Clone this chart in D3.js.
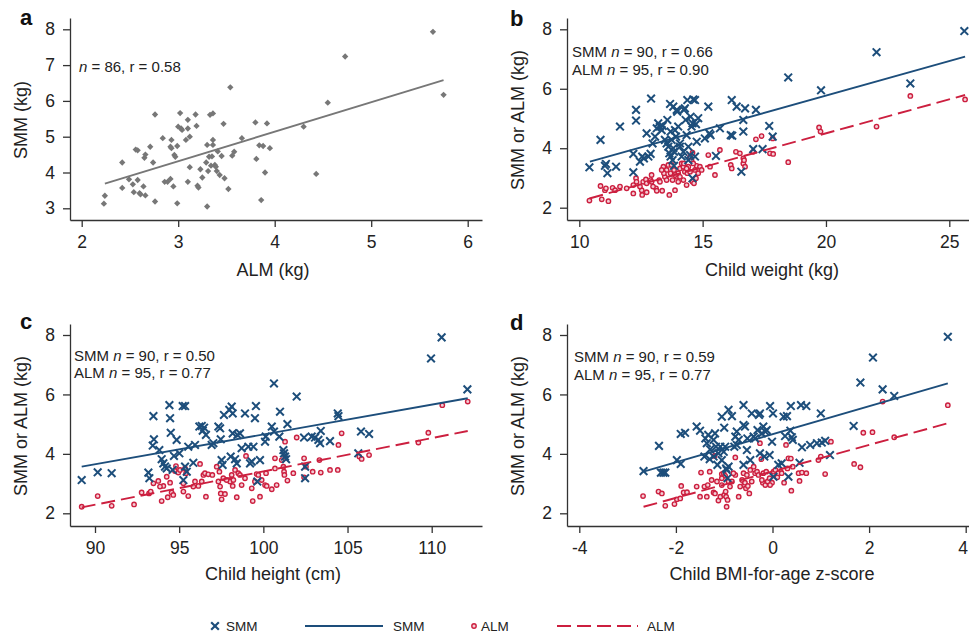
<!DOCTYPE html>
<html>
<head>
<meta charset="utf-8">
<script src="https://cdn.jsdelivr.net/npm/d3@7"></script>
<style>
  body { margin: 0; background: #fff; }
  svg { display: block; }
</style>
</head>
<body>
<div id="chart"></div>
<script>
// data: [x, y]
const aPts = [[2.24,3.35],[2.23,3.13],[2.42,4.28],[2.42,3.57],[2.49,3.81],[2.53,3.67],[2.54,3.45],[2.56,4.64],[2.58,4.62],[2.58,3.79],
  [2.60,3.42],[2.61,3.39],[2.64,3.61],[2.65,4.41],[2.66,4.50],[2.66,3.36],[2.71,4.72],[2.74,4.28],[2.76,5.62],[2.76,3.19],
  [2.84,4.96],[2.86,3.74],[2.89,3.74],[2.92,3.82],[2.92,4.72],[2.93,4.91],[2.93,4.68],[2.95,3.61],[2.96,4.49],[2.97,4.44],
  [2.99,3.14],[2.99,4.74],[3.00,5.28],[3.02,5.66],[3.03,5.23],[3.04,5.19],[3.08,4.91],[3.10,5.47],[3.10,5.23],[3.10,3.74],
  [3.12,4.15],[3.12,5.00],[3.18,5.62],[3.19,5.30],[3.20,3.63],[3.21,3.58],[3.23,4.09],[3.25,3.86],[3.29,4.28],[3.30,4.77],
  [3.30,3.05],[3.31,4.04],[3.32,4.44],[3.33,5.61],[3.34,4.19],[3.35,4.45],[3.36,5.65],[3.36,4.91],[3.36,4.77],[3.38,4.21],
  [3.39,4.16],[3.40,4.04],[3.41,4.59],[3.43,3.93],[3.45,4.46],[3.47,5.36],[3.48,3.84],[3.52,3.54],[3.54,6.38],[3.56,4.47],
  [3.58,4.58],[3.66,4.96],[3.80,5.40],[3.81,4.38],[3.84,4.76],[3.88,4.74],[3.86,3.23],[3.90,4.00],[3.92,5.37],[3.95,4.68],
  [4.30,5.28],[4.43,3.96],[4.55,5.95],[4.73,7.24],[5.64,7.93],[5.75,6.17]];
const aFit = [[2.24,3.69],[5.75,6.58]];

const bSMM = [[10.41,3.36],[10.86,4.28],[11.04,3.41],[11.08,3.47],[11.14,3.16],[11.49,3.38],[11.65,4.73],[12.19,3.81],[12.19,3.19],[12.30,5.29],
  [12.30,4.93],[12.46,3.55],[12.55,3.72],[12.62,3.66],[12.73,4.50],[12.80,3.72],[12.89,3.81],[12.91,5.67],[12.97,4.16],[13.07,4.39],
  [13.14,4.67],[13.20,4.84],[13.27,4.73],[13.34,4.61],[13.38,4.75],[13.47,4.28],[13.54,4.16],[13.57,4.95],[13.61,4.05],[13.65,3.83],
  [13.68,5.49],[13.70,3.72],[13.74,4.28],[13.78,3.60],[13.81,5.40],[13.84,3.88],[13.88,4.61],[13.92,4.39],[13.95,5.29],[13.97,5.23],
  [14.01,4.73],[14.08,4.05],[14.15,3.72],[14.22,3.88],[14.24,5.29],[14.28,5.34],[14.31,4.95],[14.35,4.44],[14.38,5.62],[14.42,4.05],
  [14.49,3.77],[14.51,5.06],[14.55,4.73],[14.59,4.84],[14.62,5.64],[14.69,5.62],[14.73,4.81],[14.76,4.22],[14.59,2.99],[14.82,5.01],
  [15.09,4.33],[15.23,5.40],[15.27,4.50],[15.32,4.44],[15.54,3.74],[15.70,4.67],[16.18,5.62],[16.14,4.44],[16.20,4.42],[16.38,5.40],
  [16.57,3.21],[16.65,4.56],[16.65,4.95],[16.72,5.34],[17.16,5.29],[17.05,3.97],[17.43,3.97],[17.70,4.75],[17.84,4.39],[18.47,6.38],
  [19.80,5.95],[22.05,7.23],[23.42,6.18],[25.61,7.94],[13.81,4.00],[14.08,4.16],[14.42,3.60],[13.70,4.56],[14.69,3.72],[13.84,3.41]];
const bALM = [[10.41,2.24],[10.86,2.73],[10.91,2.28],[11.04,2.59],[11.18,2.22],[11.08,2.65],[11.35,2.67],[11.45,2.59],[11.65,2.71],[12.19,2.76],
  [12.19,2.48],[12.30,2.99],[12.32,2.87],[12.53,2.59],[12.55,2.43],[12.59,2.87],[12.70,2.95],[12.73,2.52],[12.93,3.10],[12.89,2.93],
  [13.11,2.65],[13.14,2.57],[13.24,2.93],[13.36,2.57],[13.41,3.38],[13.47,3.04],[13.54,3.27],[13.61,3.44],[13.65,2.43],[13.70,3.16],
  [13.78,2.93],[13.84,3.27],[13.88,2.59],[13.95,3.04],[14.01,3.16],[14.08,3.32],[14.15,3.49],[14.22,3.38],[14.28,3.21],[14.35,2.76],
  [14.38,3.16],[14.42,3.38],[14.49,3.21],[14.55,3.60],[14.59,2.87],[14.59,3.85],[14.65,2.82],[14.69,3.27],[14.76,3.41],[14.82,3.16],
  [14.89,3.38],[15.23,3.77],[15.30,3.38],[15.50,3.10],[15.70,3.94],[16.14,3.44],[16.18,3.32],[16.35,3.88],[16.51,3.83],[16.65,3.66],
  [16.65,3.49],[16.72,3.38],[16.68,3.60],[17.05,3.88],[17.16,4.30],[17.39,4.41],[17.73,3.83],[17.86,3.81],[17.84,4.33],[18.47,3.53],
  [19.72,4.70],[19.78,4.56],[22.05,4.73],[23.42,5.76],[25.64,5.64],[13.27,2.87],[12.46,2.71],[12.73,2.82],[13.43,3.16],[13.74,3.44],
  [14.08,3.04],[14.24,3.49],[14.49,3.72],[14.73,2.99],[14.96,3.27],[13.88,3.10],[13.54,2.93],[12.99,2.71],[11.92,2.65],[14.22,2.93],
  [14.62,3.49],[14.01,2.87],[12.93,2.87],[13.34,3.27],[14.35,3.32]];
const bFitSMM = [[10.43,3.55],[25.64,7.08]];
const bFitALM = [[10.41,2.31],[25.64,5.79]];

const cSMM = [[89.21,3.12],[90.16,3.38],[90.99,3.35],[93.17,3.37],[93.23,3.18],[93.47,5.27],[93.50,4.49],[93.43,4.28],[93.82,4.13],[93.96,3.82],
  [94.06,3.68],[94.16,3.57],[94.26,3.51],[94.42,5.64],[94.46,5.20],[94.50,4.71],[94.61,3.46],[94.69,3.93],[94.85,4.47],[95.01,4.02],
  [95.21,5.61],[95.35,5.61],[95.25,3.12],[95.35,3.57],[95.45,3.40],[95.54,4.24],[95.84,3.70],[95.94,4.30],[96.20,4.92],[96.34,4.94],
  [96.40,4.78],[96.48,4.88],[96.59,4.64],[96.93,4.30],[97.33,4.92],[97.43,4.86],[97.47,4.49],[97.52,3.79],[97.58,3.63],[97.66,5.31],
  [97.98,5.48],[98.12,5.59],[98.18,5.36],[98.06,3.91],[98.18,4.69],[98.32,3.82],[98.42,3.68],[98.46,4.64],[98.71,4.19],[98.91,5.36],
  [99.11,4.24],[99.21,3.68],[99.31,3.74],[99.41,4.24],[99.50,5.20],[99.56,5.61],[99.64,3.07],[99.80,3.79],[100.10,4.41],[100.14,4.58],
  [100.50,4.92],[100.63,6.37],[100.63,4.75],[100.95,4.58],[100.99,5.42],[101.19,4.13],[101.23,4.02],[101.29,3.91],[101.35,3.82],[101.43,5.00],
  [101.98,5.93],[102.42,4.55],[102.48,3.57],[102.48,3.18],[102.87,4.58],[103.07,4.55],[103.27,4.47],[103.41,4.77],[103.37,4.36],[103.96,4.43],
  [104.42,5.36],[104.46,5.27],[105.64,4.02],[105.80,4.75],[106.28,4.67],[109.96,7.21],[110.59,7.92],[112.12,6.17],[97.03,4.36],[98.61,4.69]];
const cALM = [[89.21,2.22],[90.16,2.58],[90.99,2.25],[92.32,2.30],[92.77,2.70],[93.21,2.67],[93.31,2.73],[93.47,3.01],[93.76,3.09],[93.96,2.41],
  [94.06,2.92],[94.26,3.23],[94.32,2.54],[94.46,3.03],[94.55,2.70],[94.65,2.62],[94.75,3.42],[94.81,3.59],[94.95,3.37],[95.25,2.73],
  [95.25,3.01],[95.35,3.51],[95.41,3.35],[95.54,2.58],[95.84,2.90],[96.14,2.92],[96.24,3.66],[96.34,3.07],[96.44,3.29],[96.53,3.35],
  [96.59,2.56],[96.73,3.31],[96.97,3.29],[97.33,3.07],[97.39,3.40],[97.43,2.90],[97.47,2.67],[97.52,2.47],[97.62,3.18],[97.72,2.65],
  [98.02,3.07],[98.12,3.29],[98.18,2.92],[98.22,3.12],[98.32,3.46],[98.42,2.54],[98.51,3.35],[98.61,3.29],[98.91,3.18],[98.97,3.93],
  [99.31,2.84],[99.37,2.41],[99.50,3.07],[99.60,3.32],[99.70,3.29],[99.80,2.56],[100.10,2.95],[100.16,3.35],[100.20,2.92],[100.50,2.81],
  [100.69,3.85],[100.69,3.51],[101.09,3.79],[101.19,3.57],[101.23,3.40],[101.25,3.29],[101.29,4.41],[101.43,3.10],[101.98,4.55],[102.42,3.85],
  [102.42,3.21],[102.53,3.57],[102.93,3.40],[103.33,3.79],[103.41,3.37],[103.96,3.46],[104.42,3.46],[104.46,4.30],[104.65,4.69],[105.70,3.91],
  [105.84,3.83],[106.28,3.96],[109.21,4.38],[109.80,4.71],[110.63,5.64],[112.14,5.76],[93.86,2.90],[95.05,3.46],[95.94,3.07],[97.23,3.57],
  [97.82,3.12],[98.71,2.95],[99.90,3.12],[100.79,2.95],[101.78,3.35]];
const cFitSMM = [[89.21,3.57],[112.14,5.87]];
const cFitALM = [[89.21,2.20],[112.14,4.77]];

const dSMM = [[-2.67,3.42],[-2.35,4.27],[-2.31,3.37],[-2.26,3.37],[-2.22,3.37],[-1.98,3.79],[-1.90,3.66],[-1.90,4.67],[-1.81,4.71],[-1.57,4.92],
  [-1.50,4.78],[-1.41,3.91],[-1.39,4.52],[-1.36,4.36],[-1.33,4.64],[-1.30,3.82],[-1.29,4.15],[-1.22,4.47],[-1.19,4.69],[-1.17,4.24],
  [-1.14,3.63],[-1.12,4.02],[-1.08,4.24],[-1.05,3.79],[-1.05,5.25],[-1.01,4.07],[-1.00,4.88],[-0.98,4.24],[-0.96,3.51],[-0.95,3.46],
  [-0.91,5.48],[-0.93,3.18],[-0.84,5.27],[-0.79,4.24],[-0.77,4.58],[-0.74,4.75],[-0.70,4.47],[-0.60,3.63],[-0.60,5.64],[-0.60,4.97],
  [-0.57,4.92],[-0.53,4.13],[-0.52,4.52],[-0.46,3.79],[-0.43,5.36],[-0.39,4.58],[-0.36,4.52],[-0.31,4.80],[-0.28,5.31],[-0.26,5.36],
  [-0.26,4.02],[-0.22,4.69],[-0.19,4.92],[-0.17,3.91],[-0.15,4.75],[-0.12,4.80],[-0.06,3.96],[-0.05,5.61],[0.01,5.36],[-0.01,4.41],
  [0.02,3.23],[0.12,3.63],[0.23,5.25],[0.30,5.27],[0.26,4.60],[0.33,3.23],[0.37,4.78],[0.38,5.61],[0.40,4.56],[0.42,4.47],
  [0.56,3.70],[0.59,5.64],[0.61,4.22],[0.70,5.61],[0.78,4.30],[0.92,4.36],[1.00,5.36],[1.02,4.38],[1.09,4.44],[1.19,3.96],
  [1.68,4.94],[1.82,6.40],[2.08,7.24],[2.28,6.17],[2.52,5.95],[3.63,7.94],[-1.22,3.91],[-0.74,4.30],[0.19,3.68],[-0.91,3.57]];
const dALM = [[-2.68,2.58],[-2.36,2.73],[-2.29,2.67],[-2.22,2.25],[-2.03,2.31],[-1.98,2.47],[-1.91,2.50],[-1.89,2.92],[-1.84,2.70],[-1.77,2.71],
  [-1.57,2.90],[-1.48,3.37],[-1.41,2.90],[-1.36,2.56],[-1.34,2.95],[-1.30,3.40],[-1.22,2.70],[-1.20,3.93],[-1.19,2.67],[-1.15,3.07],
  [-1.12,2.43],[-1.08,2.56],[-1.05,3.32],[-1.05,2.95],[-1.01,3.35],[-1.00,2.62],[-0.98,3.26],[-0.97,2.73],[-0.96,2.56],[-0.95,2.22],
  [-0.93,2.45],[-0.91,3.07],[-0.84,3.07],[-0.77,3.88],[-0.77,3.29],[-0.70,2.56],[-0.63,3.12],[-0.60,3.35],[-0.59,2.95],[-0.57,3.03],
  [-0.55,2.84],[-0.53,3.29],[-0.51,2.92],[-0.48,2.67],[-0.46,3.46],[-0.36,3.35],[-0.32,3.40],[-0.29,3.29],[-0.26,4.36],[-0.23,3.82],
  [-0.20,3.03],[-0.19,3.35],[-0.15,2.95],[-0.13,3.40],[-0.10,3.07],[-0.06,3.18],[-0.01,3.03],[0.02,3.40],[0.06,3.46],[0.10,3.21],
  [0.17,3.40],[0.24,3.03],[0.28,4.30],[0.31,3.51],[0.33,3.85],[0.38,3.84],[0.39,2.76],[0.42,3.57],[0.54,3.35],[0.56,3.09],
  [0.61,3.37],[0.70,3.35],[0.95,3.79],[1.00,3.91],[1.09,3.32],[1.21,4.41],[1.69,3.66],[1.82,3.55],[1.88,4.71],[2.07,4.73],
  [2.28,5.76],[2.52,4.56],[3.63,5.64],[-1.50,2.56],[-1.26,3.12],[-0.88,2.90],[-0.81,3.35],[-0.67,2.90],[-0.43,3.07],[-0.39,3.57],
  [-0.22,3.12],[-0.05,2.95],[0.12,3.35],[0.19,3.35],[-1.05,3.18]];
const dFitSMM = [[-2.67,3.40],[3.63,6.37]];
const dFitALM = [[-2.67,2.22],[3.63,5.03]];

// tick labels
const aXTicks = [2, 3, 4, 5, 6], aYTicks = [3, 4, 5, 6, 7, 8];
const bXTicks = [10, 15, 20, 25];
const cXTicks = [90, 95, 100, 105, 110];
const dXTicks = [-4, -2, 0, 2, 4];
const smmYTicks = [2, 4, 6, 8];

// styles
const FONT = '"Liberation Sans", Arial, Helvetica, sans-serif';
const BLUE = "#1d4e7b", RED = "#cc1f3f", GRAY = "#777777", INK = "#222";
const DASH = "14,6";

let svg = d3.select("#chart").append("svg")
  .attr("width", 969)
  .attr("height", 636)
  .style("font-family", FONT);

let crossPath = d3.symbol(d3.symbolX, 40)();
let diamondPath = d3.symbol(d3.symbolSquare, 20)();

/**
 * Build a scale from two tick anchors, then stretch it to the axis ends.
 */
function anchoredScale(v0, p0, v1, p1, lo, hi) {
  let s = d3.scaleLinear().domain([v0, v1]).range([p0, p1]);
  return d3.scaleLinear().domain([s.invert(lo), s.invert(hi)]).range([lo, hi]);
}

function styleAxis(g) {
  g.selectAll("path, line").attr("stroke", "#333").attr("stroke-width", 1.3);
  g.selectAll("text").style("font-size", "17.5px").style("font-family", FONT).attr("fill", INK);
}

function drawPanel(p) {
  let x = anchoredScale(p.xa[0], p.xa[1], p.xb[0], p.xb[1], p.left, p.right);
  let y = anchoredScale(p.ya[0], p.ya[1], p.yb[0], p.yb[1], p.bottom, p.top);
  let plain = d => String(d);

  let xg = svg.append("g")
    .attr("transform", "translate(0," + p.bottom + ")")
    .call(d3.axisBottom(x).tickValues(p.xTicks).tickSize(7).tickSizeOuter(0).tickPadding(9).tickFormat(plain))
    .call(styleAxis);
  // keep a label that sits on the right edge inside the page
  xg.selectAll(".tick text").filter(d => x(d) + 6 > 969).attr("dx", -3);

  svg.append("g")
    .attr("transform", "translate(" + p.left + ",0)")
    .call(d3.axisLeft(y).tickValues(p.yTicks).tickSize(7).tickSizeOuter(0).tickPadding(8).tickFormat(plain))
    .call(styleAxis);

  let line = d3.line().x(d => x(d[0])).y(d => y(d[1]));

  // points
  p.series.forEach(s => {
    let g = svg.append("g");
    if (s.kind === "diamond") {
      g.selectAll("path").data(s.data).join("path")
        .attr("d", diamondPath)
        .attr("transform", d => "translate(" + x(d[0]) + "," + y(d[1]) + ") rotate(45)")
        .attr("fill", GRAY);
    } else if (s.kind === "cross") {
      g.selectAll("path").data(s.data).join("path")
        .attr("d", crossPath)
        .attr("transform", d => "translate(" + x(d[0]) + "," + y(d[1]) + ")")
        .attr("fill", "none")
        .attr("stroke", BLUE)
        .attr("stroke-width", 2);
    } else {
      g.selectAll("circle").data(s.data).join("circle")
        .attr("cx", d => x(d[0]))
        .attr("cy", d => y(d[1]))
        .attr("r", 2.2)
        .attr("fill", "#f4cdd5")
        .attr("stroke", RED)
        .attr("stroke-width", 1.4);
    }
  });

  // fit lines
  p.fits.forEach(f => {
    svg.append("path")
      .attr("d", line(f.data))
      .attr("fill", "none")
      .attr("stroke", f.color)
      .attr("stroke-width", 1.9)
      .attr("stroke-dasharray", f.dash || null);
  });

  // panel letter
  svg.append("text")
    .attr("x", p.letterX).attr("y", p.letterY)
    .text(p.letter)
    .style("font-size", "22px").style("font-weight", "bold").attr("fill", "#111");

  // stats text
  p.notes.forEach((n, i) => {
    let t = svg.append("text")
      .attr("x", p.noteX).attr("y", p.noteY + i * p.noteGap)
      .style("font-size", "15px").attr("fill", INK);
    t.append("tspan").text(n[0]);
    t.append("tspan").style("font-style", "italic").text("n");
    t.append("tspan").text(n[1]);
  });

  // axis titles
  svg.append("text")
    .attr("x", (p.left + p.right) / 2 + p.xTitleShift).attr("y", p.bottom + p.xTitleDrop)
    .attr("text-anchor", "middle")
    .style("font-size", "18px").attr("fill", INK)
    .text(p.xTitle);
  svg.append("text")
    .attr("transform", "translate(" + (p.left - 43) + "," + ((p.top + p.bottom) / 2 + 1) + ") rotate(-90)")
    .attr("text-anchor", "middle")
    .style("font-size", "18px").attr("fill", INK)
    .text(p.yTitle);
}

drawPanel({
  letter: "a", letterX: 20, letterY: 25,
  left: 70, right: 482, top: 18, bottom: 220,
  xa: [2, 81.7], xb: [6, 467.7], ya: [3, 208.3], yb: [8, 29.3],
  xTicks: aXTicks, yTicks: aYTicks,
  xTitle: "ALM (kg)", xTitleShift: -3, xTitleDrop: 56, yTitle: "SMM (kg)",
  series: [{kind: "diamond", data: aPts}],
  fits: [{data: aFit, color: GRAY}],
  notes: [["", " = 86, r = 0.58"]], noteX: 79, noteY: 72, noteGap: 0
});

drawPanel({
  letter: "b", letterX: 510, letterY: 26,
  left: 567, right: 969, top: 18, bottom: 220,
  xa: [10, 579.3], xb: [25, 949.3], ya: [2, 207.7], yb: [8, 29.3],
  xTicks: bXTicks, yTicks: smmYTicks,
  xTitle: "Child weight (kg)", xTitleShift: 4, xTitleDrop: 56, yTitle: "SMM or ALM (kg)",
  series: [{kind: "circle", data: bALM}, {kind: "cross", data: bSMM}],
  fits: [{data: bFitSMM, color: BLUE}, {data: bFitALM, color: RED, dash: DASH}],
  notes: [["SMM ", " = 90, r = 0.66"], ["ALM ", " = 95, r = 0.90"]], noteX: 572, noteY: 57, noteGap: 18
});

drawPanel({
  letter: "c", letterX: 20, letterY: 329,
  left: 70, right: 482, top: 324, bottom: 526,
  xa: [90, 95], xb: [110, 431.7], ya: [2, 513.3], yb: [8, 335],
  xTicks: cXTicks, yTicks: smmYTicks,
  xTitle: "Child height (cm)", xTitleShift: -3, xTitleDrop: 54, yTitle: "SMM or ALM (kg)",
  series: [{kind: "circle", data: cALM}, {kind: "cross", data: cSMM}],
  fits: [{data: cFitSMM, color: BLUE}, {data: cFitALM, color: RED, dash: DASH}],
  notes: [["SMM ", " = 90, r = 0.50"], ["ALM ", " = 95, r = 0.77"]], noteX: 74, noteY: 361, noteGap: 17
});

drawPanel({
  letter: "d", letterX: 510, letterY: 330,
  left: 567, right: 969, top: 324, bottom: 526,
  xa: [-4, 579.3], xb: [4, 965.7], ya: [2, 513.3], yb: [8, 335],
  xTicks: dXTicks, yTicks: smmYTicks,
  xTitle: "Child BMI-for-age z-score", xTitleShift: 4, xTitleDrop: 54, yTitle: "SMM or ALM (kg)",
  series: [{kind: "circle", data: dALM}, {kind: "cross", data: dSMM}],
  fits: [{data: dFitSMM, color: BLUE}, {data: dFitALM, color: RED, dash: DASH}],
  notes: [["SMM ", " = 90, r = 0.59"], ["ALM ", " = 95, r = 0.77"]], noteX: 574, noteY: 362, noteGap: 18
});

// legend
let leg = svg.append("g").style("font-size", "13.5px").attr("fill", INK);
let ly = 626;
leg.append("path").attr("d", crossPath).attr("transform", "translate(215," + ly + ")")
  .attr("fill", "none").attr("stroke", BLUE).attr("stroke-width", 2.2);
leg.append("text").attr("x", 226).attr("y", ly + 5).text("SMM");
leg.append("line").attr("x1", 305).attr("x2", 383).attr("y1", ly).attr("y2", ly)
  .attr("stroke", BLUE).attr("stroke-width", 2);
leg.append("text").attr("x", 393).attr("y", ly + 5).text("SMM");
leg.append("circle").attr("cx", 474).attr("cy", ly).attr("r", 2.2)
  .attr("fill", "#f4cdd5").attr("stroke", RED).attr("stroke-width", 1.4);
leg.append("text").attr("x", 481).attr("y", ly + 5).text("ALM");
leg.append("line").attr("x1", 557).attr("x2", 638).attr("y1", ly).attr("y2", ly)
  .attr("stroke", RED).attr("stroke-width", 2).attr("stroke-dasharray", DASH);
leg.append("text").attr("x", 647).attr("y", ly + 5).text("ALM");
</script>
</body>
</html>
